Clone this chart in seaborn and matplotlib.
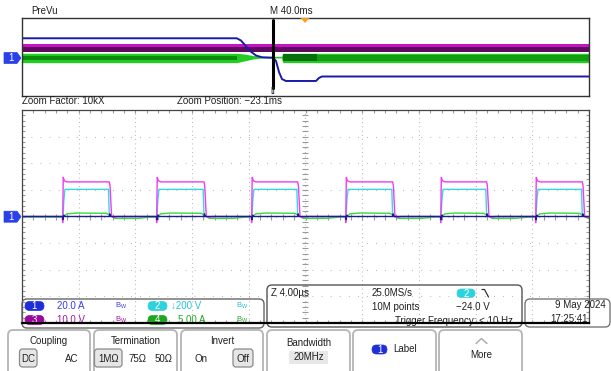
import numpy as np
import pandas as pd
import matplotlib
matplotlib.use("Agg")
import matplotlib.pyplot as plt
import seaborn as sns
from matplotlib.patches import FancyBboxPatch, Polygon, Rectangle

# ---------------- data ----------------
# zoomed window: time in microseconds (4 us/div), amplitude in divisions
rise_us = [-17.13, -10.50, -3.80, 2.84, 9.54, 16.24]
fall_us = [-13.84, -7.16, -0.55, 6.15, 12.78, 19.53]
ch3_high_div = 1.30
ch3_overshoot_div = 1.47
ch3_undershoot_div = -0.23
ch2_high_div = 1.02
ch4_high_div = 0.13
ch4_low_div = -0.07
ch1_level_div = 0.0

# PreVu overview: time in ms across the record, amplitude in overview divisions
prevu_t_ms = [0, 151.5, 154.5, 157.3, 160.8, 165.1, 169.3, 177.1, 179.2, 181.3,
              183.4, 186.2, 207.4, 209.5, 211.6, 400]
prevu_ch1 = [1.92, 1.92, 1.69, 1.23, 0.62, 0.15, -0.03, -0.08, -0.41, -1.54,
             -2.26, -2.46, -2.46, -2.15, -2.0, -2.0]
prevu_ch3_top, prevu_ch3_mid, prevu_ch3_bottom = 1.30, 1.03, 0.48
prevu_ch4_t_ms = [0, 151.5, 157, 163, 169, 183, 184, 400]
prevu_ch4_top = [0.38, 0.38, 0.30, 0.15, 0.07, 0.07, 0.38, 0.38]
prevu_ch4_bottom = [-0.58, -0.58, -0.40, -0.20, -0.10, -0.10, -0.58, -0.58]
zoom_center_ms = 177.1

# readouts
ch_labels = ["1", "2", "3", "4"]
ch_scales = ["20.0 A", "\u2193200 V", "10.0 V", "5.00 A"]
header_left = "PreVu"
header_mid = "M 40.0ms"
zoom_factor = "Zoom Factor: 10kX"
zoom_position = "Zoom Position: \u221223.1ms"
timebase = "Z 4.00\u00b5s"
sample_rate = "25.0MS/s"
rec_len = "10M points"
trig_level = "\u221224.0 V"
trig_freq = "Trigger Frequency: < 10 Hz"
date_str = "9 May 2024"
time_str = "17:25:41"

C1, C2, C3, C4 = "#1c1c8c", "#3ad6e6", "#f03cf0", "#3ad83a"
C1_TXT, C2_TXT, C3_TXT, C4_TXT = "#3a3aee", "#22c4d6", "#a216a2", "#23a523"
PILL = {"1": "#1f2fd8", "2": "#2fd2dc", "3": "#9a0a9a", "4": "#1fa51f"}

# ---------------- figure ----------------
sns.set_style("white")
plt.rcParams["font.family"] = ["Liberation Sans", "DejaVu Sans"]
W, H = 611, 371
fig = plt.figure(figsize=(W / 100, H / 100), dpi=100)
fig.patch.set_facecolor("white")


def rect(x0, y0, x1, y1):
    return [x0 / W, 1 - y1 / H, (x1 - x0) / W, (y1 - y0) / H]


def build(rises, falls, low, rise_shape, fall_shape, t0=-24, t1=24):
    t, v = [t0], [low]
    for r, f in zip(rises, falls):
        for dt, val in rise_shape:
            t.append(r + dt); v.append(val)
        for dt, val in fall_shape:
            t.append(f + dt); v.append(val)
    t.append(t1); v.append(low)
    return t, v


# ---------------- PreVu ----------------
axp = fig.add_axes(rect(22, 18, 589, 96))
axp.set_xlim(0, 400)
axp.set_ylim(-4, 4)
axp.set_xticks([]); axp.set_yticks([])
for s in axp.spines.values():
    s.set_color("#333333"); s.set_linewidth(1)
axp.fill_between([0, 400], prevu_ch3_bottom, prevu_ch3_top, color="#5e0a5e", lw=0)
axp.fill_between([0, 400], prevu_ch3_mid, prevu_ch3_top, color="#c412c4", lw=0)
axp.fill_between(prevu_ch4_t_ms, prevu_ch4_bottom, prevu_ch4_top, color="#22cc22", lw=0)
axp.fill_between([0, 151.5], -0.31, 0.15, color="#0b8a0b", lw=0)
axp.fill_between([184.2, 208], -0.45, 0.28, color="#07700a", lw=0)
axp.fill_between([208, 400], -0.40, 0.22, color="#129c12", lw=0)
sns.lineplot(x=prevu_t_ms, y=prevu_ch1, ax=axp, color="#1a1aa8", lw=1.4,
             sort=False, estimator=None)
axp.plot([zoom_center_ms, zoom_center_ms], [3.82, -3.18], color="black", lw=2.2)

# ---------------- main graticule ----------------
axm = fig.add_axes(rect(22, 110, 589, 323))
axm.set_xlim(-20, 20)
axm.set_ylim(-4, 4)
axm.set_xticks([]); axm.set_yticks([])
axm.set_xticks(np.arange(-20, 20.01, 0.8), minor=True)
axm.set_yticks(np.arange(-4, 4.01, 0.2), minor=True)
axm.tick_params(which="minor", direction="in", length=2.5, width=0.8, color="#9a9a9a",
                top=True, bottom=True, left=True, right=True,
                labelbottom=False, labelleft=False)
for side, s in axm.spines.items():
    s.set_color("#444444"); s.set_linewidth(0.9)
axm.spines["bottom"].set_color("black"); axm.spines["bottom"].set_linewidth(1.6)
for x in np.arange(-16, 20, 4):
    axm.axvline(x, color="#9a9a9a", lw=0.8, ls=(0, (0.6, 3.24)), zorder=0)
for y in np.arange(-3, 4, 1):
    axm.axhline(y, color="#9a9a9a", lw=0.8, ls=(0, (0.6, 7.56)), zorder=0)
axm.plot(np.zeros(41), np.arange(-4, 4.01, 0.2), ls="none", marker="_", ms=4,
         mew=0.8, color="#9a9a9a", zorder=0)
axm.plot(np.arange(-20, 20.01, 0.8), np.zeros(51), ls="none", marker="|", ms=4,
         mew=0.8, color="#9a9a9a", zorder=0)

t3, v3 = build(rise_us, fall_us, 0.0,
               [(-0.03, 0.0), (0.0, ch3_undershoot_div), (0.04, ch3_overshoot_div),
                (0.12, 1.34), (0.3, ch3_high_div)],
               [(0.0, ch3_high_div), (0.05, 1.15), (0.16, 0.02), (0.3, -0.04), (0.6, 0.0)])
t2, v2 = build(rise_us, fall_us, 0.0,
               [(0.02, 0.0), (0.08, 0.6), (0.16, ch2_high_div)],
               [(-0.06, ch2_high_div), (0.0, 0.0)])
t4, v4 = build(rise_us, fall_us, -0.02,
               [(0.0, -0.02), (0.3, 0.10), (1.0, ch4_high_div)],
               [(-0.2, 0.12), (0.4, ch4_low_div), (2.0, ch4_low_div), (3.0, -0.02)])
t1, v1 = build(rise_us, fall_us, ch1_level_div,
               [(0.0, 0.0), (0.03, -0.12), (0.08, 0.05), (0.15, 0.0)],
               [(0.0, 0.0), (0.03, 0.10), (0.1, 0.0)])
df = pd.concat([
    pd.DataFrame({"t": t4, "v": v4, "ch": "4"}),
    pd.DataFrame({"t": t2, "v": v2, "ch": "2"}),
    pd.DataFrame({"t": t3, "v": v3, "ch": "3"}),
    pd.DataFrame({"t": t1, "v": v1, "ch": "1"}),
], ignore_index=True)
sns.lineplot(data=df, x="t", y="v", hue="ch", hue_order=["4", "2", "3", "1"],
             palette={"1": C1, "2": C2, "3": C3, "4": C4}, ax=axm, lw=1.0,
             sort=False, estimator=None, legend=False)
axm.set_xlabel(""); axm.set_ylabel("")
axp.set_xlabel(""); axp.set_ylabel("")

# ---------------- overlay ----------------
ov = fig.add_axes([0, 0, 1, 1], zorder=10)
ov.set_xlim(0, W); ov.set_ylim(H, 0)
ov.axis("off")
ov.patch.set_alpha(0)

FS = 7.0
TXT = "#202020"


def txt(s, x, y, ha="left", color=TXT, fs=FS, **kw):
    ov.text(x, y, s, ha=ha, va="center", color=color, fontsize=fs, **kw)


def rbox(x0, y0, x1, y1, ec="#555555", fc="none", r=4, lw=1.0, z=1):
    ov.add_patch(FancyBboxPatch((x0, y0), x1 - x0, y1 - y0,
                                boxstyle=f"round,pad=0,rounding_size={r}",
                                ec=ec, fc=fc, lw=lw, zorder=z))


def pill(x0, y0, x1, y1, label, color):
    rbox(x0, y0, x1, y1, ec=color, fc=color, r=(y1 - y0) / 2, lw=0.5, z=3)
    txt(label, (x0 + x1) / 2, (y0 + y1) / 2 + 0.3, ha="center", color="white",
        fs=7, zorder=4)


def marker1(yc):
    ov.add_patch(Polygon([(4, yc - 5.5), (17, yc - 5.5), (21, yc), (17, yc + 5.5),
                          (4, yc + 5.5)], closed=True, fc="#2a40e8", ec="#2a40e8",
                         lw=0.5, zorder=3))
    txt("1", 11, yc + 0.3, ha="center", color="white", fs=7, zorder=4)


# header
txt(header_left, 31, 11)
txt(header_mid, 270, 11)
ov.add_patch(Polygon([(300.5, 18), (309.5, 18), (305, 23)], closed=True,
                     fc="#f5a020", ec="none", zorder=3))
txt("[]", 273, 91, ha="center", fs=6)
txt(zoom_factor, 22, 101.5)
txt(zoom_position, 177, 101.5)
marker1(58)
marker1(216.7)

# channel readout box
rbox(22, 299, 264, 328, ec="#666666", r=5)
pill(25, 301.5, 44, 310.5, ch_labels[0], PILL["1"])
txt(ch_scales[0], 57, 306, color=C1_TXT)
pill(148, 301.5, 167, 310.5, ch_labels[1], PILL["2"])
txt(ch_scales[1], 171, 306, color=C2_TXT)
pill(25, 315.5, 44, 324.5, ch_labels[2], PILL["3"])
txt(ch_scales[2], 57, 320, color=C3_TXT)
pill(148, 315.5, 167, 324.5, ch_labels[3], PILL["4"])
txt(ch_scales[3], 178, 320, color=C4_TXT)
for bx, by, col in [(115, 306, C1_TXT), (236, 306, C2_TXT),
                    (115, 320, C3_TXT), (236, 320, C4_TXT)]:
    txt(r"$\mathregular{B_W}$", bx, by, color=col, fs=5.5)

# timebase / trigger box
rbox(267, 285, 522, 327, ec="#555555", r=5)
txt(timebase, 271, 292.5)
txt(sample_rate, 372, 293.5)
pill(457, 289, 475, 297.5, "2", PILL["2"])
ov.plot([482, 484.5, 488.5], [289.5, 289.5, 297], color="#333333", lw=0.9, zorder=3)
txt(rec_len, 372, 307)
txt(trig_level, 456, 307)
txt(trig_freq, 395, 320.5)

# date box
rbox(525, 299, 610, 327, ec="#777777", r=5)
txt(date_str, 606, 305.5, ha="right")
txt(time_str, 587.5, 319.5, ha="right")

# graticule bottom edge over the readouts
ov.plot([22, 589], [322.6, 322.6], color="black", lw=1.4, zorder=6)

# soft-key menu
for x0, x1 in [(8, 90), (94, 177), (181, 263), (267, 350), (353, 436), (439, 522)]:
    rbox(x0, 330, x1, 378, ec="#b4b4b4", fc="white", r=5, lw=1.3)
txt("Coupling", 49, 340.5, ha="center")
rbox(19.5, 349, 37, 367, ec="#8a8a8a", fc="#e6e6e6", r=3, lw=0.9, z=2)
txt("DC", 28.2, 358.5, ha="center", zorder=3)
txt("AC", 72, 358.5, ha="center")
txt("Termination", 136, 340.5, ha="center")
rbox(94.5, 349, 122, 367, ec="#8a8a8a", fc="#e6e6e6", r=3, lw=0.9, z=2)
txt("1M\u03a9", 108.2, 358.5, ha="center", zorder=3)
txt("75\u03a9", 137.5, 358.5, ha="center")
txt("50\u03a9", 163.5, 358.5, ha="center")
txt("Invert", 222, 340.5, ha="center")
txt("On", 201, 358.5, ha="center")
rbox(233, 349, 253, 367, ec="#8a8a8a", fc="#e6e6e6", r=3, lw=0.9, z=2)
txt("Off", 243, 358.5, ha="center", zorder=3)
txt("Bandwidth", 309, 343, ha="center")
ov.add_patch(Rectangle((289, 350.5), 39, 13, fc="#e8e8e8", ec="none", zorder=2))
txt("20MHz", 308.5, 357, ha="center", zorder=3)
pill(372, 345, 387, 354, "1", "#1f2fd8")
txt("Label", 393, 349.5)
ov.plot([476, 481.5, 487], [343.5, 338.5, 343.5], color="#a8a8a8", lw=1.0)
txt("More", 481, 355, ha="center")

fig.savefig("out.png", dpi=100, facecolor="white")
